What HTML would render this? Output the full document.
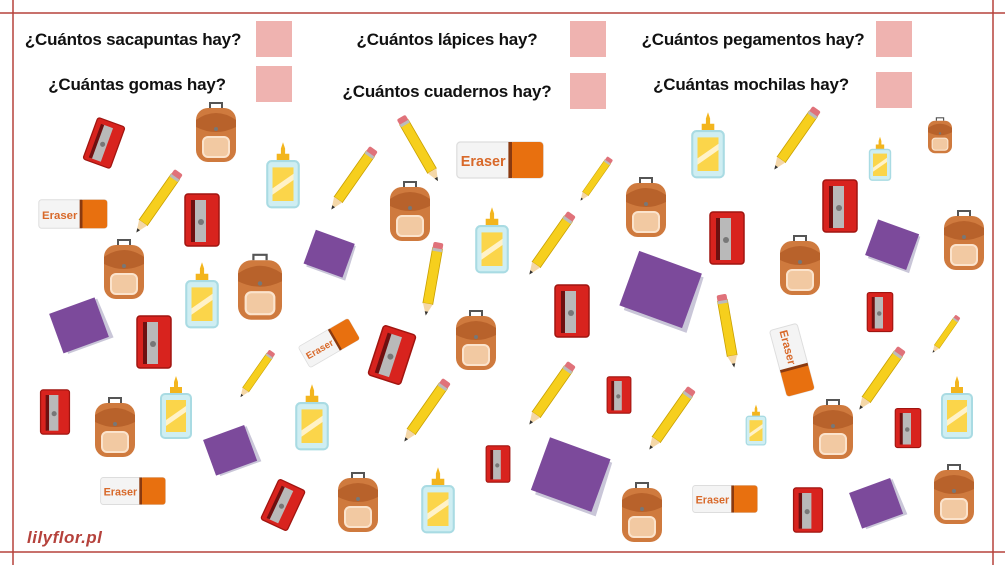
<!DOCTYPE html>
<html><head><meta charset="utf-8">
<style>
html,body{margin:0;padding:0;background:#fff;}
body{width:1005px;height:565px;overflow:hidden;position:relative;font-family:"Liberation Sans",sans-serif;}
.q{position:absolute;font-weight:bold;font-size:17px;color:#111;white-space:nowrap;transform:translateX(-50%);letter-spacing:-0.2px}
.b{position:absolute;width:36px;height:36px;background:#efb3b0;}
</style></head><body>
<svg width="1005" height="565" style="position:absolute;left:0;top:0">
<defs>
<g id="sh">
 <rect x="-17" y="-26" width="34" height="52" rx="3" fill="#d8231e"/>
 <rect x="-17" y="-26" width="34" height="52" rx="3" fill="none" stroke="#a01510" stroke-width="1.5"/>
 <rect x="-9" y="-20" width="13" height="42" fill="#b9b9b9"/>
 <rect x="-11" y="-20" width="4" height="42" fill="#6e1010"/>
 <circle cx="-1" cy="2" r="3" fill="#777"/>
</g>
<g id="bp">
 <path d="M-6,-27 v-5 h12 v5" fill="none" stroke="#555" stroke-width="2"/>
 <rect x="-20" y="-27" width="40" height="54" rx="12" fill="#cf7a3e"/>
 <path d="M-20,-8 q20,10 40,0 v-7 q-20,-14 -40,0z" fill="#b8622b"/>
 <rect x="-13" y="2" width="26" height="20" rx="5" fill="#f2c9a2" stroke="#fbe3cc" stroke-width="2"/>
 <circle cx="0" cy="-6" r="2" fill="#777"/>
</g>
<g id="gl">
 <path d="M-2,-30 l2,-6 l2,6 v6 h-4z" fill="#f3b51d"/>
 <rect x="-6" y="-25" width="12" height="7" fill="#f3b51d"/>
 <rect x="-15" y="-18" width="30" height="44" rx="4" fill="#cfeef2" stroke="#a9dbe3" stroke-width="2"/>
 <rect x="-10" y="-12" width="20" height="32" fill="#fbd54a"/>
 <path d="M-10,8 l20,-14 v6 l-20,14z" fill="#fff2c8"/>
</g>
<g id="pc">
 <rect x="-32" y="-5" width="56" height="10" fill="#f6cf1d" stroke="#c9a000" stroke-width="0.8"/>
 <rect x="-38" y="-5" width="7" height="10" rx="2" fill="#e0727a"/>
 <rect x="-32" y="-5" width="3" height="10" fill="#bbb"/>
 <path d="M24,-5 L36,0 L24,5z" fill="#f4d7a8"/>
 <path d="M32,-1.7 L36,0 L32,1.7z" fill="#333"/>
</g>
<g id="er">
 <rect x="-36" y="-15" width="72" height="30" rx="3" fill="#f4f4f4" stroke="#ddd"/>
 <rect x="8" y="-15" width="28" height="30" rx="3" fill="#e8700f"/>
 <rect x="7" y="-15" width="3" height="30" fill="#8a3a10"/>
 <text x="-14" y="5" text-anchor="middle" font-family="Liberation Sans,sans-serif" font-weight="bold" font-size="12" fill="#d8692a">Eraser</text>
</g>
<g id="nb">
 <path d="M-22,-18 L24,-18 L26,22 L-20,22z" fill="#c9c6d8"/>
 <path d="M-24,-20 L22,-20 L22,20 L-24,20z" fill="#7c4a9b"/>
</g>
</defs>
<g stroke="#b5423c" stroke-width="1.5">
 <line x1="0" y1="13" x2="1005" y2="13"/>
 <line x1="0" y1="552" x2="1005" y2="552"/>
 <line x1="13" y1="0" x2="13" y2="565"/>
 <line x1="993" y1="0" x2="993" y2="565"/>
</g>
<use href="#sh" transform="translate(104,143) rotate(20) scale(0.85)"/>
<use href="#sh" transform="translate(202,220)"/>
<use href="#sh" transform="translate(154,342)"/>
<use href="#sh" transform="translate(55,412) scale(0.85)"/>
<use href="#sh" transform="translate(392,355) rotate(18)"/>
<use href="#sh" transform="translate(572,311)"/>
<use href="#sh" transform="translate(498,464) scale(0.7)"/>
<use href="#sh" transform="translate(619,395) scale(0.7)"/>
<use href="#sh" transform="translate(727,238)"/>
<use href="#sh" transform="translate(840,206)"/>
<use href="#sh" transform="translate(880,312) scale(0.75)"/>
<use href="#sh" transform="translate(908,428) scale(0.75)"/>
<use href="#sh" transform="translate(808,510) scale(0.85)"/>
<use href="#sh" transform="translate(283,505) rotate(25) scale(0.85)"/>
<use href="#bp" transform="translate(216,135)"/>
<use href="#bp" transform="translate(124,272)"/>
<use href="#bp" transform="translate(260,290) scale(1.1)"/>
<use href="#bp" transform="translate(410,214)"/>
<use href="#bp" transform="translate(476,343)"/>
<use href="#bp" transform="translate(115,430)"/>
<use href="#bp" transform="translate(358,505)"/>
<use href="#bp" transform="translate(646,210)"/>
<use href="#bp" transform="translate(800,268)"/>
<use href="#bp" transform="translate(964,243)"/>
<use href="#bp" transform="translate(940,137) scale(0.6)"/>
<use href="#bp" transform="translate(833,432)"/>
<use href="#bp" transform="translate(954,497)"/>
<use href="#bp" transform="translate(642,515)"/>
<use href="#gl" transform="translate(283,180) scale(1.05)"/>
<use href="#gl" transform="translate(202,300) scale(1.05)"/>
<use href="#gl" transform="translate(176,412)"/>
<use href="#gl" transform="translate(312,422) scale(1.05)"/>
<use href="#gl" transform="translate(492,245) scale(1.05)"/>
<use href="#gl" transform="translate(438,505) scale(1.05)"/>
<use href="#gl" transform="translate(708,150) scale(1.05)"/>
<use href="#gl" transform="translate(880,162) scale(0.7)"/>
<use href="#gl" transform="translate(756,428) scale(0.65)"/>
<use href="#gl" transform="translate(957,412)"/>
<use href="#pc" transform="translate(157,203) rotate(125)"/>
<use href="#pc" transform="translate(352,180) rotate(125)"/>
<use href="#pc" transform="translate(420,150) rotate(60)"/>
<use href="#pc" transform="translate(595,180) rotate(125) scale(0.7)"/>
<use href="#pc" transform="translate(432,280) rotate(100)"/>
<use href="#pc" transform="translate(550,245) rotate(125)"/>
<use href="#pc" transform="translate(256,375) rotate(125) scale(0.75)"/>
<use href="#pc" transform="translate(425,412) rotate(125)"/>
<use href="#pc" transform="translate(550,395) rotate(125)"/>
<use href="#pc" transform="translate(670,420) rotate(125)"/>
<use href="#pc" transform="translate(795,140) rotate(125)"/>
<use href="#pc" transform="translate(728,332) rotate(80)"/>
<use href="#pc" transform="translate(880,380) rotate(125)"/>
<use href="#pc" transform="translate(945,335) rotate(125) scale(0.6)"/>
<use href="#er" transform="translate(73,214) scale(0.95)"/>
<use href="#er" transform="translate(500,160) scale(1.2)"/>
<use href="#er" transform="translate(133,491) scale(0.9)"/>
<use href="#er" transform="translate(329,343) rotate(-30) scale(0.8)"/>
<use href="#er" transform="translate(792,360) rotate(75) scale(0.95)"/>
<use href="#er" transform="translate(725,499) scale(0.9)"/>
<use href="#nb" transform="translate(330,254) rotate(20) scale(0.9)"/>
<use href="#nb" transform="translate(80,325) rotate(-20) scale(1.05)"/>
<use href="#nb" transform="translate(231,450) rotate(-20) scale(0.95)"/>
<use href="#nb" transform="translate(572,475) rotate(20) scale(1.4)"/>
<use href="#nb" transform="translate(662,290) rotate(20) scale(1.45)"/>
<use href="#nb" transform="translate(893,245) rotate(20) scale(0.95)"/>
<use href="#nb" transform="translate(877,503) rotate(-20) scale(0.95)"/>
</svg>
<div class="q" style="left:133px;top:30px">¿Cuántos sacapuntas hay?</div>
<div class="b" style="left:256px;top:21px"></div>
<div class="q" style="left:137px;top:75px">¿Cuántas gomas hay?</div>
<div class="b" style="left:256px;top:66px"></div>
<div class="q" style="left:447px;top:30px">¿Cuántos lápices hay?</div>
<div class="b" style="left:570px;top:21px"></div>
<div class="q" style="left:447px;top:82px">¿Cuántos cuadernos hay?</div>
<div class="b" style="left:570px;top:73px"></div>
<div class="q" style="left:753px;top:30px">¿Cuántos pegamentos hay?</div>
<div class="b" style="left:876px;top:21px"></div>
<div class="q" style="left:751px;top:75px">¿Cuántas mochilas hay?</div>
<div class="b" style="left:876px;top:72px"></div>
<div style="position:absolute;left:27px;top:528px;font-weight:bold;font-style:italic;font-size:17px;color:#b5423c;letter-spacing:0.5px">lilyflor.pl</div>
</body></html>
